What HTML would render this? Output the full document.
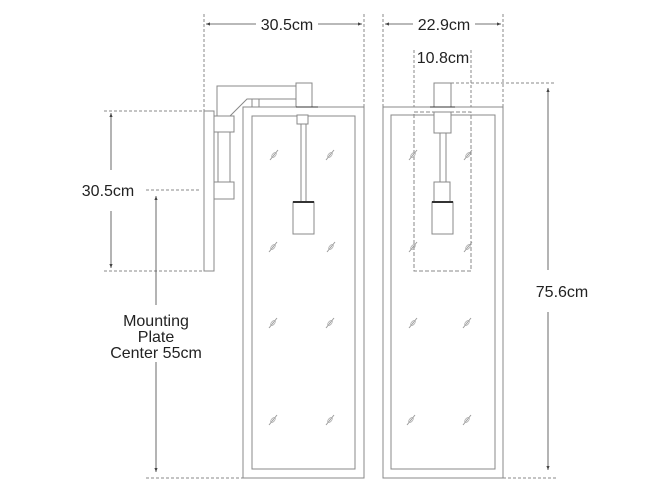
<!DOCTYPE html>
<html><head><meta charset="utf-8"><style>
html,body{margin:0;padding:0;background:#fff;width:670px;height:503px;overflow:hidden}
svg{display:block}
text{font-family:"Liberation Sans",sans-serif;font-size:16px;fill:#222}
</style></head><body>
<svg width="670" height="503" viewBox="0 0 670 503" xmlns="http://www.w3.org/2000/svg">
<defs>
<marker id="a" viewBox="0 0 10 10" refX="10" refY="5" markerWidth="5" markerHeight="5" orient="auto-start-reverse"><path d="M0,1 L10,5 L0,9 z" fill="#444"/></marker>
<g id="m"><line x1="-4" y1="5" x2="4" y2="-5" stroke="#999" stroke-width="1"/><ellipse cx="0" cy="0" rx="1.6" ry="3" transform="rotate(40)" fill="none" stroke="#aaa" stroke-width="0.8"/></g>
</defs>
<g fill="none" stroke="#888" stroke-width="1" stroke-dasharray="3,2">
<line x1="204" y1="14" x2="204" y2="111"/>
<line x1="364" y1="14" x2="364" y2="107"/>
<line x1="383" y1="14" x2="383" y2="107"/>
<line x1="503" y1="14" x2="503" y2="107"/>
<line x1="414" y1="50" x2="414" y2="112"/>
<line x1="471" y1="50" x2="471" y2="112"/>
<line x1="451" y1="83" x2="556" y2="83"/>
<line x1="503" y1="478" x2="557" y2="478"/>
<line x1="104" y1="111" x2="203" y2="111"/>
<line x1="104" y1="271" x2="203" y2="271"/>
<line x1="146" y1="190" x2="200" y2="190"/>
<line x1="146" y1="478" x2="243" y2="478"/>
</g>
<g stroke="#444" stroke-width="0.8" fill="none">
<line x1="256" y1="24" x2="206" y2="24" marker-end="url(#a)"/>
<line x1="318" y1="24" x2="362" y2="24" marker-end="url(#a)"/>
<line x1="413" y1="24" x2="385" y2="24" marker-end="url(#a)"/>
<line x1="475" y1="24" x2="501" y2="24" marker-end="url(#a)"/>
<line x1="548" y1="270" x2="548" y2="88" marker-end="url(#a)"/>
<line x1="548" y1="312" x2="548" y2="470" marker-end="url(#a)"/>
<line x1="111" y1="170" x2="111" y2="113" marker-end="url(#a)"/>
<line x1="111" y1="211" x2="111" y2="268" marker-end="url(#a)"/>
<line x1="156" y1="305" x2="156" y2="196" marker-end="url(#a)"/>
<line x1="156" y1="362" x2="156" y2="472" marker-end="url(#a)"/>
</g>
<g fill="#fff" stroke="#888" stroke-width="1">
<rect x="204" y="111" width="10" height="160"/>
<path d="M217,116 V86 H296 V99 H247 L230,116"/>
<rect x="296" y="83" width="16" height="24"/>
<rect x="252" y="99" width="7" height="8"/>
<rect x="218" y="132" width="12" height="50"/>
<rect x="214" y="116" width="20" height="16"/>
<rect x="214" y="182" width="20" height="17"/>
<rect x="243" y="107" width="121" height="371"/>
<rect x="252" y="116" width="103" height="353"/>
<rect x="297" y="115" width="11" height="9"/>
<rect x="301" y="124" width="5" height="78"/>
<rect x="293" y="202" width="21" height="32"/>
<line x1="293" y1="202" x2="314" y2="202" stroke="#333" stroke-width="2"/>
<line x1="296" y1="107" x2="318" y2="107" stroke="#333"/>
<rect x="434" y="83" width="17" height="24"/>
<rect x="383" y="107" width="120" height="371"/>
<rect x="391" y="115" width="104" height="354"/>
<rect x="434" y="112" width="17" height="21"/>
<rect x="440" y="133" width="6" height="49"/>
<rect x="434" y="182" width="16" height="20"/>
<rect x="432" y="202" width="21" height="32"/>
<line x1="432" y1="202" x2="453" y2="202" stroke="#333" stroke-width="2"/>
<line x1="430" y1="107" x2="455" y2="107" stroke="#333"/>
</g>
<rect x="414" y="112" width="57" height="159" fill="none" stroke="#888" stroke-dasharray="4,2"/>
<g>
<use href="#m" x="274" y="155"/><use href="#m" x="330" y="155"/>
<use href="#m" x="273" y="247"/><use href="#m" x="331" y="247"/>
<use href="#m" x="273" y="323"/><use href="#m" x="330" y="323"/>
<use href="#m" x="273" y="420"/><use href="#m" x="330" y="420"/>
<use href="#m" x="413" y="155"/><use href="#m" x="468" y="155"/>
<use href="#m" x="413" y="247"/><use href="#m" x="468" y="247"/>
<use href="#m" x="413" y="323"/><use href="#m" x="467" y="323"/>
<use href="#m" x="411" y="420"/><use href="#m" x="467" y="420"/>
</g>
<text x="287" y="30" text-anchor="middle">30.5cm</text>
<text x="444" y="30" text-anchor="middle">22.9cm</text>
<text x="443" y="63" text-anchor="middle">10.8cm</text>
<text x="562" y="297" text-anchor="middle">75.6cm</text>
<text x="108" y="196" text-anchor="middle">30.5cm</text>
<text x="156" y="326" text-anchor="middle">Mounting</text>
<text x="156" y="342" text-anchor="middle">Plate</text>
<text x="156" y="358" text-anchor="middle">Center 55cm</text>
</svg>
</body></html>
